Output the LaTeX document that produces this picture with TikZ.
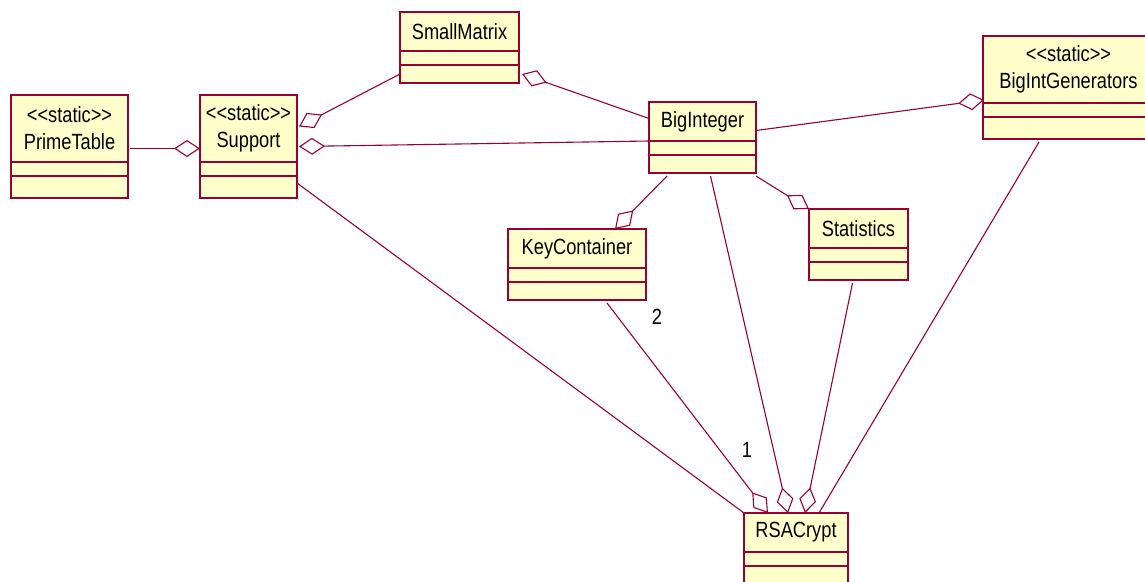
\documentclass[tikz,border=0pt]{standalone}
\usepackage{fontspec}
\setmainfont{Liberation Sans}[FakeStretch=0.83]
\usetikzlibrary{arrows.meta,positioning}
\definecolor{umlfill}{RGB}{255,255,204}
\definecolor{umlline}{RGB}{153,0,51}

\begin{document}
\begin{tikzpicture}[x=1pt, y=-1pt, node distance=0pt]
\tikzset{
	classname/.style={rectangle, draw=umlline, fill=umlfill, line width=1.2pt, inner sep=0pt, outer sep=0pt, align=center, font=\fontsize{22}{27}\selectfont, minimum height=39pt},
	classpart/.style={rectangle, draw=umlline, fill=umlfill, line width=1.2pt, inner sep=0pt, outer sep=0pt, minimum height=14pt},
	myaggr/.style={-{Diamond[open, length=26pt, width=17pt]}, draw=umlline, line width=1.1pt},
	myassoc/.style={draw=umlline, line width=1.1pt},
	mylabel/.style={font=\fontsize{22}{27}\selectfont, inner sep=0pt}
}
	\clip (0,0) rectangle (1145,581);

	\node[classname, minimum width=117pt, minimum height=67pt, anchor=north west] (prime) at (11,95) {<{}<static>{}>\\PrimeTable};
	\node[classpart, minimum width=117pt, below=of prime] (prime-attr) {};
	\node[classpart, minimum width=117pt, minimum height=22pt, below=of prime-attr] (prime-ops) {};

	\node[classname, minimum width=97pt, minimum height=67pt, anchor=north west] (support) at (200,95) {<{}<static>{}>\\Support};
	\node[classpart, minimum width=97pt, below=of support] (support-attr) {};
	\node[classpart, minimum width=97pt, minimum height=22pt, below=of support-attr] (support-ops) {};

	\node[classname, minimum width=119pt, anchor=north west] (smallm) at (400,12) {SmallMatrix};
	\node[classpart, minimum width=119pt, below=of smallm] (smallm-attr) {};
	\node[classpart, minimum width=119pt, minimum height=18pt, below=of smallm-attr] (smallm-ops) {};

	\node[classname, minimum width=107pt, anchor=north west] (bigint) at (649,102) {BigInteger};
	\node[classpart, minimum width=107pt, below=of bigint] (bigint-attr) {};
	\node[classpart, minimum width=107pt, minimum height=18pt, below=of bigint-attr] (bigint-ops) {};

	\node[classname, minimum width=171pt, minimum height=67pt, anchor=north west] (biggen) at (983,36) {<{}<static>{}>\\BigIntGenerators};
	\node[classpart, minimum width=171pt, below=of biggen] (biggen-attr) {};
	\node[classpart, minimum width=171pt, minimum height=22pt, below=of biggen-attr] (biggen-ops) {};

	\node[classname, minimum width=138pt, anchor=north west] (keycont) at (508,229) {KeyContainer};
	\node[classpart, minimum width=138pt, below=of keycont] (keycont-attr) {};
	\node[classpart, minimum width=138pt, minimum height=18pt, below=of keycont-attr] (keycont-ops) {};

	\node[classname, minimum width=99pt, anchor=north west] (stats) at (809,209) {Statistics};
	\node[classpart, minimum width=99pt, below=of stats] (stats-attr) {};
	\node[classpart, minimum width=99pt, minimum height=18pt, below=of stats-attr] (stats-ops) {};

	\node[classname, minimum width=104pt, anchor=north west] (rsa) at (744,513) {RSACrypt};
	\node[classpart, minimum width=104pt, below=of rsa] (rsa-attr) {};
	\node[classpart, minimum width=104pt, minimum height=22pt, below=of rsa-attr] (rsa-ops) {};

	\draw[myaggr] ([xshift=2pt, yshift=-20pt]prime.east) -- ([yshift=-20pt]support.west);
	\draw[myaggr] (smallm-ops.west) -- ([xshift=2pt, yshift=2pt]support.east);
	\draw[myaggr] ([yshift=3pt]bigint.west) -- ([xshift=3pt]smallm-ops.east);
	\draw[myaggr] (bigint.south west) -- ([xshift=2pt, yshift=-18pt]support.east);
	\draw[myaggr] ([yshift=-9pt]bigint.east) -- ([xshift=1pt, yshift=3pt]biggen.south west);
	\draw[myaggr] ([xshift=18pt, yshift=-3pt]bigint-ops.south west) -- ([xshift=38pt]keycont.north);
	\draw[myaggr] ([yshift=-3pt]bigint-ops.south east) -- (stats.north west);

	\draw[myassoc] ([yshift=4pt]support-ops.east) -- (rsa.north west);
	\draw[myaggr] ([xshift=30pt, yshift=-3pt]keycont-ops.south) -- ([xshift=-28pt]rsa.north);
	\draw[myaggr] ([xshift=8pt, yshift=-3pt]bigint-ops.south) -- ([xshift=-8pt]rsa.north);
	\draw[myaggr] ([xshift=-6pt, yshift=-3pt]stats-ops.south) -- ([xshift=9pt]rsa.north);
	\draw[myassoc] ([xshift=56pt, yshift=-3pt]biggen-ops.south west) -- ([xshift=23pt]rsa.north);

	\node[mylabel] (keycont-mult) at (657,317) {2};
	\node[mylabel] (rsa-mult) at (747,450) {1};

\end{tikzpicture}
\end{document}
